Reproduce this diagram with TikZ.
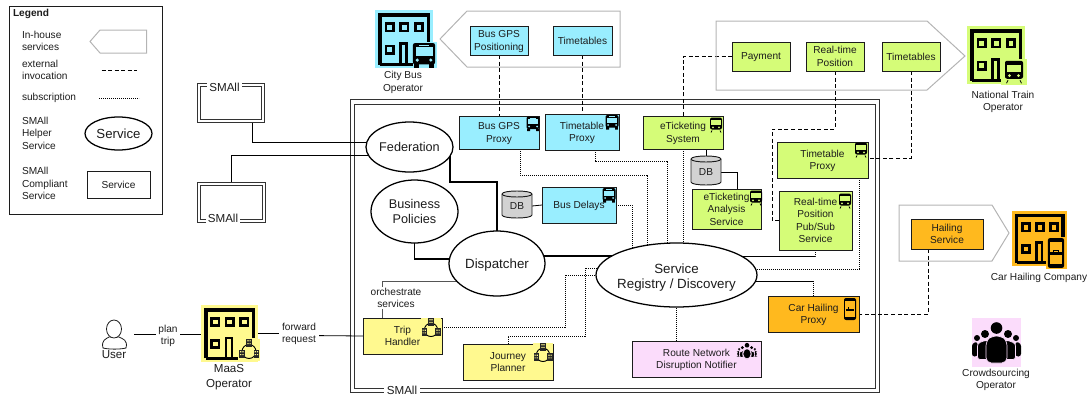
\documentclass[tikz,border=0pt]{standalone}
\usepackage{fontspec}
\setmainfont{Liberation Sans}
\usetikzlibrary{calc,backgrounds,shapes.geometric}
\definecolor{cyc}{HTML}{99EEFF}
\definecolor{grc}{HTML}{D5FC78}
\definecolor{orc}{HTML}{FFB91E}
\definecolor{yec}{HTML}{FFF98F}
\definecolor{pkc}{HTML}{FBDCFB}
\definecolor{inkc}{HTML}{1C1C1C}
\definecolor{dbc}{HTML}{D2D2D2}
\definecolor{pentc}{HTML}{B4B4B4}
\newcommand{\fsm}{\fontsize{7.6}{9.3}\selectfont}
\newcommand{\fmd}{\fontsize{9.5}{11.2}\selectfont}
\newcommand{\fbg}{\fontsize{10}{11.4}\selectfont}
\newcommand{\fus}{\fontsize{8.7}{10.6}\selectfont}
\tikzset{
  x=0.75pt,y=-0.75pt,
  every node/.style={text=inkc,inner sep=0pt,outer sep=0pt},
  svcbox/.style={draw=inkc,line width=.75pt,align=center,font=\fsm,text depth=0pt},
  helper/.style={ellipse,draw=black,fill=white,line width=.95pt,align=center,text depth=0pt},
  txt/.style={align=center,font=\fsm,text depth=0pt},
  txtl/.style={align=left,anchor=west,font=\fsm},
  lab/.style={align=center,font=\fsm,fill=white,inner sep=1pt,text depth=0pt},
  smallbox/.style={draw=inkc!90,line width=.6pt},
  conn/.style={draw=black,line width=.85pt},
  thinconn/.style={draw=black,line width=.6pt},
  orch/.style={draw=inkc!75,line width=.7pt},
  ext/.style={draw=black,line width=.7pt,dash pattern=on 3pt off 1.9pt},
  subs/.style={draw=black,line width=.7pt,dash pattern=on .8pt off .7pt},
  pent/.style={draw=pentc,line width=.75pt},
  pics/building/.style={code={
    \fill[#1] (0,0) rectangle (58,58);
    \draw[black,line width=2.5pt] (5,54.5) -- (5,5) -- (53.5,5) -- (53.5,34) (5,54.5) -- (40,54.5);
    \foreach \xa in {11,25.5,40.3}{\draw[black,line width=2pt] (\xa,13.5) rectangle ++(7.5,7.5);}
    \draw[black,line width=2pt] (11,36) rectangle ++(7.5,7.5);
    \draw[black,line width=2pt] (25.5,54.5) -- (25.5,33.5) -- (31.5,33.5) -- (31.5,54.5);
  }},
  pics/busicon/.style={code={
    \fill[black,rounded corners=1.5pt] (-6.5,-7) rectangle (6.5,5.5);
    \fill[#1] (-5,-4.5) rectangle (5,0.5);
    \fill[#1] (-3,-6) rectangle (3,-5.4);
    \fill[#1] (-4,3) circle (1) (4,3) circle (1);
    \fill[black] (-5.8,5) rectangle (-3,7.5) (3,5) rectangle (5.8,7.5);
  }},
  pics/trainicon/.style={code={
    \fill[black,rounded corners=1.5pt] (-6,-7.5) rectangle (6,4.5);
    \fill[#1] (-4.6,-5) rectangle (4.6,0);
    \fill[#1] (-3,2.4) circle (1) (3,2.4) circle (1);
    \draw[black,line width=.6pt] (-4,5.5) -- (-5,7.5) (4,5.5) -- (5,7.5);
  }},
  pics/neticon/.style={code={
    \fill[#1] (-11,-10.5) rectangle (11,11);
    \draw[black,line width=.7pt] (0,2) circle (7);
    \foreach \xa/\ya in {-2.8/-10.5,-10/0.5,4.6/0.5}{
      \fill[black!85] (\xa,\ya) rectangle ++(5.6,8);
      \fill[#1] (\xa,\ya) ++(1.1,1.2) rectangle ++(1.2,1.2) ++(1,-1.2) rectangle ++(1.2,1.2);
      \fill[#1] (\xa,\ya) ++(1.1,4) rectangle ++(1.2,1.2) ++(1,-1.2) rectangle ++(1.2,1.2);
    }
  }},
  pics/phoneicon/.style={code={
    \fill[black,rounded corners=1.5pt] (-6,-11) rectangle (6,11);
    \fill[#1] (-4.6,-8.5) rectangle (4.6,8);
    \fill[black] (-4.4,-0.5) rectangle (4.4,1.5);
    \fill[black] (-2.2,-2.3) rectangle (2.2,0);
    \fill[#1] (-1.5,-1.7) rectangle (1.5,-.4);
  }},
  pics/crowdicon/.style={code={
    \fill[black,rounded corners=2pt] (-24.5,14) -- (-24.5,1) -- (-19,-1) -- (-19,14) -- cycle;
    \fill[black,rounded corners=2pt] (24.5,14) -- (24.5,1) -- (19,-1) -- (19,14) -- cycle;
    \fill[black] (-19.5,-4.5) circle (3) (19.5,-4.5) circle (3);
    \fill[black,draw=#1,line width=.5pt,rounded corners=2pt] (-19,17) -- (-19,1) -- (-12,-2) -- (-8,-2) -- (-8,17) -- cycle;
    \fill[black,draw=#1,line width=.5pt,rounded corners=2pt] (19,17) -- (19,1) -- (12,-2) -- (8,-2) -- (8,17) -- cycle;
    \fill[black] (-11.5,-8.5) circle (4) (11.5,-8.5) circle (4);
    \fill[black,draw=#1,line width=.5pt,rounded corners=4pt] (-10.5,20.5) -- (-10.5,-2) -- (-5,-6.5) -- (5,-6.5) -- (10.5,-2) -- (10.5,20.5) -- cycle;
    \fill[black] (0,-14.5) circle (5.8);
  }}
}
\newcommand{\svc}[7]{\node[svcbox,fill=#6,minimum width={(#4-#2)*0.75pt},minimum height={(#5-#3)*0.75pt}] (#1) at ({(#2+#4)/2},{(#3+#5)/2}) {#7};}
\newcommand{\hlp}[7]{\node[helper,font=#6,minimum width={(#4-#2)*0.75pt},minimum height={(#5-#3)*0.75pt}] (#1) at ({(#2+#4)/2},{(#3+#5)/2}) {#7};}
% double-lined platform frame: outer node (named) and inner node
\newcommand{\smb}[6]{%
  \node[smallbox,minimum width={(#4-#2)*0.75pt},minimum height={(#5-#3)*0.75pt}] (#1) at ({(#2+#4)/2},{(#3+#5)/2}) {};
  \node[smallbox,minimum width={(#4-#2-2*#6)*0.75pt},minimum height={(#5-#3-2*#6)*0.75pt}] (#1in) at ({(#2+#4)/2},{(#3+#5)/2}) {};}
\newcommand{\dbc}[5]{%
  \draw[draw=inkc,fill=dbc,line width=.7pt] (#2,#3+3) .. controls (#2,#3-1) and (#4,#3-1) .. (#4,#3+3) -- (#4,#5-3) .. controls (#4,#5+1) and (#2,#5+1) .. (#2,#5-3) -- cycle;
  \draw[draw=inkc,line width=.7pt] (#2,#3+3) .. controls (#2,#3+7) and (#4,#3+7) .. (#4,#3+3);
  \node[font=\fsm,text depth=0pt,minimum width={(#4-#2)*0.75pt},minimum height={(#5-#3)*0.75pt}] (#1) at ({(#2+#4)/2},{(#3+#5)/2+1.5}) {DB};}
\begin{document}
\begin{tikzpicture}
\useasboundingbox (0,0) rectangle (1088,396);

% outer SMAll box, below everything
\begin{pgfonlayer}{background}
\smb{smMain}{350.5}{99.8}{879.3}{392.3}{4.2}
\end{pgfonlayer}

% legend
\node[draw=inkc,line width=.7pt,minimum width={153.5*0.75pt},minimum height={208*0.75pt}] (legend) at (86.2,110) {};
\node[font=\fsm\bfseries,anchor=west] (legT) at (13,13.5) {Legend};
\node[txtl] (leg1) at (22,41) {In-house\\services};
\node[txtl] (leg2) at (22,70) {external\\invocation};
\node[txtl] (leg3) at (22,97.5) {subscription};
\node[txtl] (leg4) at (22,133) {SMAll\\Helper\\Service};
\node[txtl] (leg5) at (22,183.5) {SMAll\\Compliant\\Service};
\draw[pent] (90,41.5) -- (100,30) -- (146.7,30) -- (146.7,53) -- (100,53) -- cycle;
\coordinate (lgA) at (101.5,70);
\coordinate (lgB) at (137,70);
\coordinate (lgC) at (99,98);
\coordinate (lgD) at (139,98);
\draw[ext] (lgA) -- (lgB);
\draw[subs] (lgC) -- (lgD);
\hlp{legS}{85}{117}{152}{150}{\fontsize{9.9}{11}\selectfont}{Service}
\svc{legR}{87}{171}{150}{198}{white}{Service}

% SMAll peers
\smb{smA}{197.5}{83.5}{264.5}{122}{3}
\node[font=\fus,fill=white,inner sep=1.5pt] (smAl) at (224.5,87) {SMAll};
\smb{smB}{197.5}{182.5}{265.5}{222}{3}
\node[font=\fus,fill=white,inner sep=1.5pt] (smBl) at (223,218.5) {SMAll};
\node[font=\fus,fill=white,inner sep=2.5pt] (smMl) at (402,390) {SMAll};

% operators
\pic at (375,10) {building=cyc};
\fill[cyc] (413,42) rectangle (437,68);
\pic[scale=1.7] at (424,55) {busicon=cyc};
\node[txt] (opBus) at (403,81.5) {City Bus\\Operator};
\pic at (967,26) {building=grc};
\fill[grc] (1001,59) rectangle (1027,85);
\pic[scale=1.5] at (1014,72) {trainicon=grc};
\node[txt] (opTrain) at (1003,101) {National Train\\Operator};
\pic[scale=.95] at (1012,211) {building=orc};
\fill[orc] (1046,237) rectangle (1067,269);
\pic[scale=1.35] at (1056,253) {phoneicon=orc};
\node[txt] (opCar) at (1039,276.5) {Car Hailing Company};
\fill[pkc] (972,318) rectangle (1021,367);
\pic at (996.5,342.5) {crowdicon=pkc};
\node[txt] (opCrowd) at (996,379) {Crowdsourcing\\Operator};
\node (maas) [minimum width={57*0.75pt},minimum height={57*0.75pt}] at (229.5,333.5) {};
\pic[scale=.98] at (201,305) {building=yec};
\pic at (249,349.5) {neticon=yec};
\node[align=center,font=\fus,text depth=0pt] (opMaas) at (229,376) {MaaS\\Operator};

% user
\draw[draw=inkc,line width=.6pt,fill=white] (103,348) .. controls (101,340) and (106,339) .. (109,337) -- (119,337) .. controls (123,339) and (128,340) .. (126,348) .. controls (120,349.5) and (109,349.5) .. (103,348) -- cycle;
\draw[draw=inkc,line width=.6pt,fill=white] (114,329) ellipse (7.5 and 9);
\node[align=center,font=\fus] (user) at (114,355) {User};
\coordinate (userR) at (134,334.5);

% in-house pentagons
\draw[pent] (440,39) -- (467,11) -- (620,11) -- (620,67) -- (467,67) -- cycle;
\draw[pent] (716,21) -- (927,21) -- (965,56) -- (927,90) -- (716,90) -- cycle;
\draw[pent] (899,205) -- (992,205) -- (1009,233) -- (992,261) -- (899,261) -- cycle;

% services
\svc{bgpos}{470}{26}{528}{55}{cyc}{Bus GPS\\Positioning}
\svc{ttb}{553}{26}{612}{55}{cyc}{Timetables}
\svc{pay}{732}{42}{790}{71}{grc}{Payment}
\svc{rtp}{806}{42}{864}{71}{grc}{Real-time\\Position}
\svc{ttn}{882}{42}{940}{71}{grc}{Timetables}
\svc{hail}{911}{219}{983}{249}{orc}{Hailing\\Service}

\svc{bgproxy}{459}{116}{539}{149}{cyc}{Bus GPS\\Proxy}
\pic at (533,123.5) {busicon=cyc};
\svc{ttbp}{545}{114}{619}{150}{cyc}{Timetable\\Proxy}
\pic at (612,122) {busicon=cyc};
\svc{etk}{643}{116}{723}{149}{grc}{eTicketing\\System}
\pic at (716,125) {trainicon=grc};
\svc{an}{692}{189}{761}{229}{grc}{eTicketing\\Analysis\\Service}
\pic at (756,198) {trainicon=grc};
\svc{ttp}{777}{142}{868}{178}{grc}{Timetable\\Proxy}
\pic at (861,150) {trainicon=grc};
\svc{rt}{779}{191}{852}{250}{grc}{Real-time\\Position\\Pub/Sub\\Service}
\pic at (845,201) {trainicon=grc};
\svc{bdel}{542}{187}{616}{223}{cyc}{Bus Delays}
\pic at (609,195) {busicon=cyc};
\svc{chp}{768}{296}{859}{332}{orc}{Car Hailing\\Proxy}
\pic at (850,309) {phoneicon=orc};
\svc{route}{632}{341}{761}{377}{pkc}{Route Network\\Disruption Notifier}
\pic[scale=.4] at (747,351) {crowdicon=pkc};
\svc{jp}{463}{344}{553}{380}{yec}{Journey\\Planner}
\pic[scale=.95] at (543,353) {neticon=yec};
\svc{trip}{363}{318}{442}{354}{yec}{Trip\\Handler}
\pic[scale=.95] at (431,328) {neticon=yec};

\dbc{db1}{691}{156}{721}{185}
\dbc{db2}{502}{191}{532}{218}

% helpers
\hlp{fed}{366}{122}{453}{172}{\fmd}{Federation}
\hlp{biz}{371}{180}{458}{243}{\fmd}{Business\\Policies}
\hlp{disp}{449}{231}{545}{296}{\fbg}{Dispatcher}
\hlp{reg}{596}{243}{757}{307}{\fbg}{}
\node[align=center,font=\fbg,text depth=0pt] (regT) at (676.5,276) {Service\\Registry / Discovery};

% connector labels
\node[lab] (lbOrch) at (396,298) {orchestrate\\services};
\node[lab,inner sep=2pt] (lbPlan) at (168,335) {plan\\trip};
\node[lab,inner sep=2pt] (lbFwd) at (299,333) {forward\\request};

% connectors, behind the nodes
\begin{pgfonlayer}{background}
\draw[thinconn] (smA.south) ++(21,0) |- ($(fed)+(0,-5)$);
\draw[thinconn] (smB.north) |- ($(fed)+(0,8)$);
\draw[conn] ($(fed)+(40.5,0)$) -- ++(0,35) -| (disp);
\draw[conn] (biz) -- ++(0,47.5) -- ++(50,0);
\draw[conn] ($(disp)+(0,-7.5)$) -- ($(reg)+(0,-19)$);
\draw[orch] ($(disp)+(0,17.5)$) -| ($(trip.north)+(-20.5,0)$);
\draw[thinconn] (userR) -- (userR -| maas.west);
\draw[thinconn] (maas.east) -- ++(50,0) -- ++(0,2) -- (trip.west);
\draw[thinconn] (db2.east) -- (bdel.west);
\draw[thinconn] (db1.north) -- (db1.north |- etk.south);
\draw[thinconn] (db1.east) -| ($(an.north)+(10.5,0)$);

\draw[ext] (bgpos.south) -- (bgproxy.north);
\draw[ext] (ttb.south) -- (ttb.south |- ttbp.north);
\draw[ext] (etk.north) |- (pay.west);
\draw[ext] (rtp.south) -- ++(0,58) -- ++(-63,0) |- (rt.west);
\draw[ext] (ttn.south) |- ($(ttp.east)+(0,-2)$);
\draw[ext] (hail.south) ++(-19,0) |- (chp.east);

\draw[subs] (bgproxy.south) ++(21,0) -- ++(0,26) -| ($(reg)+(-29.5,0)$);
\draw[subs] (ttbp.south) ++(13,0) -- ++(0,11) -| ($(reg)+(-9.5,0)$);
\draw[subs] (bdel.east) -| ($(reg)+(-44.5,0)$);
\draw[subs] (etk.south) -- (etk.south |- reg.center);
\draw[subs] (rt.south) -- ++(0,6) -- ++(-80,0);
\draw[subs] (ttp.south) ++(36.5,0) -- ++(0,91) -- ++(-110,0);
\draw[subs] (chp.north) -- ++(0,-15) -- ++(-70,0);
\draw[subs] (route.north) ++(-20,0) -- ++(0,-50);
\draw[subs] (trip.east) ++(0,-9) -- ++(123,0) -- ++(0,-52) -- ++(40,0);
\draw[subs] (jp.north) -- ++(0,-8) -- ++(77,0) -- ++(0,-68) -- ++(20,0);
\end{pgfonlayer}
\end{tikzpicture}
\end{document}
